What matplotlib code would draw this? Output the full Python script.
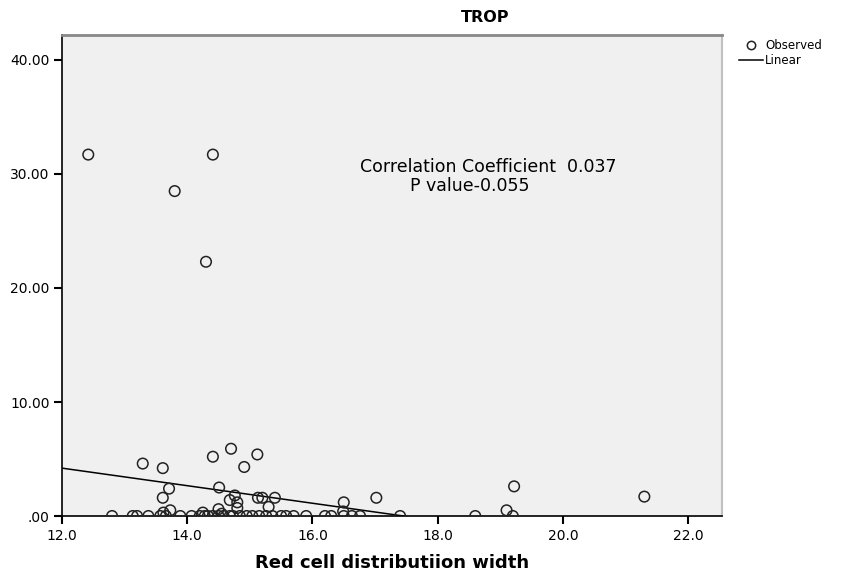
import numpy as np
import matplotlib
matplotlib.use("Agg")
import matplotlib.pyplot as plt
from matplotlib.lines import Line2D

# observed points
rdw = [12.42, 14.41, 13.80, 14.30,
       13.29, 13.61, 14.41, 14.70, 15.12, 14.91, 13.71, 14.51, 13.61, 14.68,
       14.80, 14.76, 15.13, 15.20, 15.40, 15.30, 16.50, 17.02, 19.22, 21.30,
       19.10, 16.49, 14.80, 14.50, 13.73, 14.25, 13.62, 14.55,
       12.80, 13.13, 13.20, 13.38, 13.57, 13.66, 13.89, 14.07, 14.20, 14.28,
       14.33, 14.41, 14.50, 14.58, 14.68, 14.73, 14.84, 14.95, 15.04, 15.15,
       15.26, 15.36, 15.50, 15.58, 15.70, 15.90, 16.20, 16.30, 16.50, 16.63,
       16.76, 17.40, 18.60, 19.20]
trop = [31.7, 31.7, 28.5, 22.3,
        4.6, 4.2, 5.2, 5.9, 5.4, 4.3, 2.4, 2.5, 1.6, 1.4,
        1.2, 1.8, 1.6, 1.6, 1.6, 0.8, 1.2, 1.6, 2.6, 1.7,
        0.5, 0.4, 0.7, 0.6, 0.5, 0.3, 0.3, 0.2,
        0, 0, 0, 0, 0, 0, 0, 0, 0, 0,
        0, 0, 0, 0, 0, 0, 0, 0, 0, 0,
        0, 0, 0, 0, 0, 0, 0, 0, 0, 0,
        0, 0, 0, 0]

# linear fit line
fit_intercept = 13.44
fit_slope = -0.77

x_ticks = [12.0, 14.0, 16.0, 18.0, 20.0, 22.0]
x_tick_labels = ["12.0", "14.0", "16.0", "18.0", "20.0", "22.0"]
y_ticks = [0, 10, 20, 30, 40]
y_tick_labels = [".00", "10.00", "20.00", "30.00", "40.00"]

fig = plt.figure(figsize=(8.5, 5.71), dpi=100)
ax = fig.add_axes([0.0729, 0.0963, 0.7765, 0.8424])
ax.set_facecolor("#f0f0f0")

ax.scatter(rdw, trop, s=58, facecolors="none", edgecolors="#222222",
           linewidths=1.1, zorder=3)
xs = np.array([12.0, 22.6])
ax.plot(xs, fit_intercept + fit_slope * xs, color="black", lw=1.1, zorder=2)

ax.set_xlim(12.0, 22.54)
ax.set_ylim(0, 42.19)
ax.set_xticks(x_ticks)
ax.set_xticklabels(x_tick_labels)
ax.set_yticks(y_ticks)
ax.set_yticklabels(y_tick_labels)
ax.tick_params(axis="both", direction="out", length=6, width=1.5,
               labelsize=10, colors="black", pad=3)

for side in ["left", "bottom"]:
    ax.spines[side].set_color("black")
    ax.spines[side].set_linewidth(1.2)
ax.spines["top"].set_color("#888888")
ax.spines["top"].set_linewidth(2)
ax.spines["right"].set_color("#c0c0c0")
ax.spines["right"].set_linewidth(1.5)

ax.set_xlabel("Red cell distributiion width", fontsize=13,
              fontweight="bold", labelpad=8)
fig.text(485 / 850, 1 - 18 / 571, "TROP", fontsize=11.5, fontweight="bold",
         ha="center", va="center")

# annotation inside the plot
fig.text(488 / 850, 1 - 167 / 571, "Correlation Coefficient  0.037",
         fontsize=12.5, ha="center", va="center")
fig.text(470 / 850, 1 - 186 / 571, "P value-0.055",
         fontsize=12.5, ha="center", va="center")

handles = [
    Line2D([], [], linestyle="none", marker="o", ms=6, mfc="none",
           mec="#222222", mew=1.1, label="Observed"),
    Line2D([], [], color="black", lw=1.1, label="Linear"),
]
fig.legend(handles=handles, loc="upper left",
           bbox_to_anchor=(733 / 850, 1 - 33 / 571), frameon=False,
           fontsize=8.5, handlelength=2.0, handletextpad=0.2,
           labelspacing=0.2, borderpad=0)

fig.savefig("out.png", dpi=100)
